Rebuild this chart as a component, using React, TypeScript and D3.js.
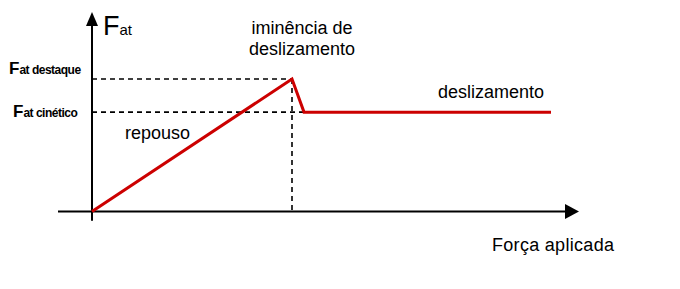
import React from "react";
import * as d3 from "d3";

// Force applied (x) vs friction force (y), arbitrary units
const curveX = [0, 100, 106, 229.5];
const curveY = [0, 100, 75, 75];
const staticMax = 100;
const kinetic = 75;
const peakX = 100;
const xAxisExtent = [-17, 243.5];
const yAxisExtent = [-7, 150.5];

const W = 680;
const H = 289;

export default function App() {
  const x = d3.scaleLinear().domain([0, 250]).range([92, 592]);
  const y = d3.scaleLinear().domain([0, 100]).range([211.5, 79]);
  const pts: [number, number][] = curveX.map((v, i) => [v, curveY[i]]);
  const line = d3
    .line<[number, number]>()
    .x((d) => x(d[0]))
    .y((d) => y(d[1]));

  const x0 = x(0);
  const y0 = y(0);
  const xEnd = x(xAxisExtent[1]);
  const yTop = y(yAxisExtent[1]);
  const font = "'Liberation Sans', Arial, sans-serif";

  return (
    <svg
      width={W}
      height={H}
      style={{ position: "absolute", left: 0, top: 0, background: "#fff" }}
      fontFamily={font}
    >
      {/* dashed guides */}
      <g stroke="#000" strokeWidth={1.6} strokeDasharray="5,4" fill="none">
        <line x1={x0} x2={x(peakX)} y1={y(staticMax)} y2={y(staticMax)} />
        <line x1={x0} x2={x(curveX[2])} y1={y(kinetic)} y2={y(kinetic)} />
        <line x1={x(peakX)} x2={x(peakX)} y1={y(staticMax)} y2={y0} />
      </g>
      {/* axes */}
      <g stroke="#000" strokeWidth={2}>
        <line x1={x(xAxisExtent[0])} x2={xEnd - 10} y1={y0} y2={y0} />
        <line x1={x0} x2={x0} y1={y(yAxisExtent[0])} y2={yTop + 10} />
      </g>
      <path
        d={`M${xEnd},${y0} L${xEnd - 14},${y0 - 7.5} L${xEnd - 14},${y0 + 7.5} Z`}
        fill="#000"
      />
      <path
        d={`M${x0},${yTop} L${x0 - 6},${yTop + 14} L${x0 + 6},${yTop + 14} Z`}
        fill="#000"
      />
      {/* curve */}
      <path d={line(pts) || ""} fill="none" stroke="#cc0000" strokeWidth={3} strokeLinejoin="miter" />

      {/* labels */}
      <text x={103} y={35} fontSize={27} fill="#000">
        F<tspan fontSize={15} dx={0}>at</tspan>
      </text>
      <text x={9} y={74} fill="#000" fontWeight="bold">
        <tspan fontSize={17}>F</tspan>
        <tspan fontSize={12} letterSpacing={-0.5}>at destaque</tspan>
      </text>
      <text x={13} y={117} fill="#000" fontWeight="bold">
        <tspan fontSize={17}>F</tspan>
        <tspan fontSize={12} letterSpacing={-0.5}>at cinético</tspan>
      </text>
      <text x={302} y={34} fontSize={18} textAnchor="middle" fill="#000">
        iminência de
      </text>
      <text x={302} y={55} fontSize={18} textAnchor="middle" fill="#000">
        deslizamento
      </text>
      <text x={438} y={98} fontSize={18} fill="#000">
        deslizamento
      </text>
      <text x={125} y={139} fontSize={18} fill="#000">
        repouso
      </text>
      <text x={492} y={251} fontSize={18} letterSpacing={0.3} fill="#000">
        Força aplicada
      </text>
    </svg>
  );
}
